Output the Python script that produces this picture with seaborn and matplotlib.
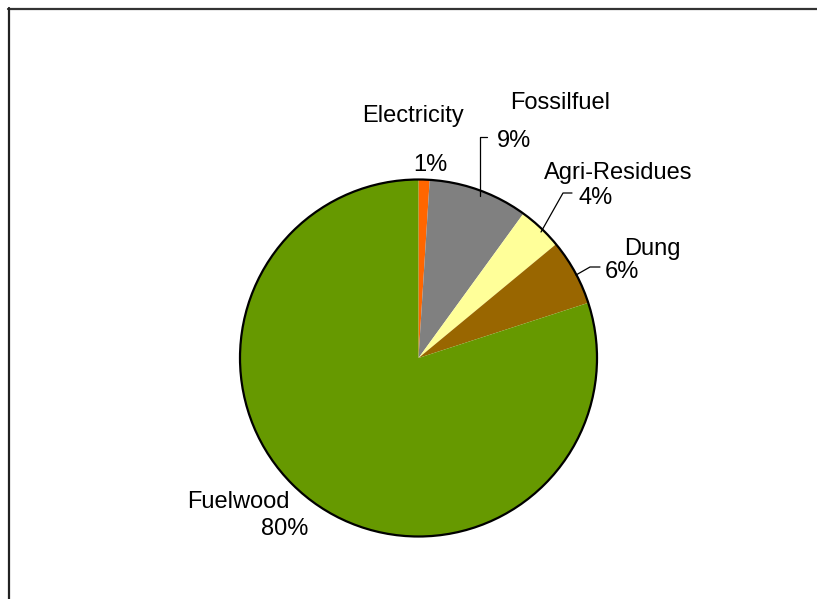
import matplotlib
matplotlib.use("Agg")
import matplotlib.pyplot as plt
import seaborn as sns
from matplotlib.lines import Line2D

sns.set_theme(style="white")
plt.rcParams['font.family'] = ['Liberation Sans', 'DejaVu Sans']

categories = ["Electricity", "Fossilfuel", "Agri-Residues", "Dung", "Fuelwood"]
values = [1, 9, 4, 6, 80]
colors = ["#FF6600", "#808080", "#FFFF99", "#996600", "#669900"]

W, H = 817, 599
fig = plt.figure(figsize=(W / 100, H / 100), dpi=100)
fig.patch.set_facecolor("white")
ax = fig.add_axes([0, 0, 1, 1])
ax.set_xlim(0, W)
ax.set_ylim(0, H)
ax.set_aspect("equal")
ax.axis("off")

cx, cy, r = 418.5, H - 358, 178.5
wedges, _ = ax.pie(values, colors=colors, startangle=90, counterclock=False,
                   center=(cx, cy), radius=r, frame=True,
                   wedgeprops=dict(linewidth=0, antialiased=True))
ax.set_xlim(0, W)
ax.set_ylim(0, H)
ax.axis("off")
circle = plt.Circle((cx, cy), r, fill=False, edgecolor="black", linewidth=1.6)
ax.add_patch(circle)

total = sum(values)
pcts = [f"{v / total * 100:.0f}%" for v in values]

fs = 17
# (name position, pct position) in pixel coords from top
name_pos = [(413, 116), (560, 103), (618, 173), (652, 249), (238, 502)]
pct_pos = [(430, 165), (514, 141), (596, 198), (622, 272), (285, 529)]
for cat, p, npos, ppos in zip(categories, pcts, name_pos, pct_pos):
    ax.text(npos[0], H - npos[1], cat, ha="center", va="center", fontsize=fs, color="black")
    ax.text(ppos[0], H - ppos[1], p, ha="center", va="center", fontsize=fs, color="black")

leaders = [
    [(480, 196), (480, 137), (487, 137)],
    [(541, 232), (563, 193), (572, 193)],
    [(576, 275), (590, 267), (600, 267)],
]
for pts in leaders:
    xs = [p[0] for p in pts]
    ys = [H - p[1] for p in pts]
    ax.plot(xs, ys, color="black", linewidth=0.9)

# chart border (top and left visible)
fig.add_artist(Line2D([8 / W, 1], [1 - 9 / H, 1 - 9 / H], transform=fig.transFigure,
                      color="#333333", linewidth=1.6))
fig.add_artist(Line2D([9 / W, 9 / W], [1 - 8 / H, 0], transform=fig.transFigure,
                      color="#222222", linewidth=1.6))

fig.savefig("out.png", dpi=100, facecolor="white")
